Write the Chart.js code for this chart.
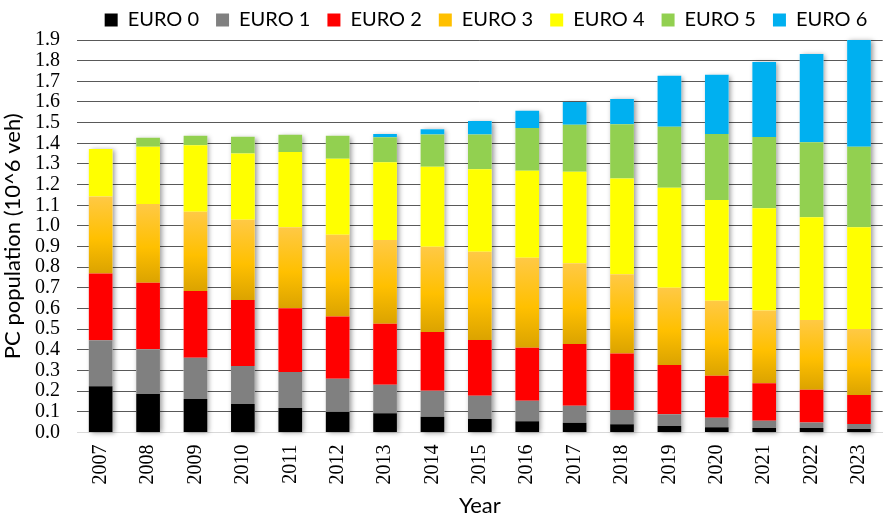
<!DOCTYPE html>
<html>
<head>
<meta charset="utf-8">
<script src="https://cdn.jsdelivr.net/npm/chart.js@4.4.0/dist/chart.umd.min.js"></script>
<style>
  html, body { margin: 0; padding: 0; background: #fff; }
  #wrap { width: 895px; height: 523px; }
</style>
</head>
<body>
<div id="wrap"><canvas id="myChart" width="895" height="523"></canvas></div>
<script>
const years = ['2007','2008','2009','2010','2011','2012','2013','2014','2015','2016','2017','2018','2019','2020','2021','2022','2023'];

// passenger car population per emission class, 10^6 vehicles
const euro0 = [0.224,0.186,0.162,0.138,0.119,0.101,0.093,0.076,0.065,0.054,0.047,0.040,0.031,0.025,0.022,0.022,0.017];
const euro1 = [0.222,0.217,0.200,0.184,0.174,0.159,0.138,0.126,0.113,0.100,0.083,0.069,0.057,0.047,0.035,0.027,0.024];
const euro2 = [0.324,0.322,0.323,0.319,0.308,0.302,0.296,0.284,0.270,0.256,0.298,0.274,0.239,0.203,0.181,0.158,0.141];
const euro3 = [0.373,0.381,0.384,0.389,0.392,0.395,0.405,0.413,0.427,0.436,0.391,0.383,0.374,0.363,0.352,0.338,0.319];
const euro4 = [0.229,0.277,0.321,0.321,0.365,0.368,0.376,0.388,0.399,0.421,0.443,0.464,0.484,0.487,0.495,0.497,0.492];
const euro5 = [0,0.044,0.047,0.081,0.083,0.112,0.121,0.156,0.169,0.207,0.228,0.262,0.295,0.320,0.345,0.363,0.390];
const euro6 = [0,0,0,0,0,0,0.016,0.025,0.065,0.084,0.110,0.122,0.247,0.287,0.363,0.427,0.517];

const yTicks = [0,0.1,0.2,0.3,0.4,0.5,0.6,0.7,0.8,0.9,1.0,1.1,1.2,1.3,1.4,1.5,1.6,1.7,1.8,1.9];

// EURO 3 segments get a vertical gradient, built per bar from the y scale
function euro3Fill(c) {
  const chart = c.chart;
  const y = chart.scales.y;
  if (!y || c.dataIndex === undefined) return '#FFC000';
  const i = c.dataIndex;
  const bottom = euro0[i] + euro1[i] + euro2[i];
  const top = bottom + euro3[i];
  const y0 = y.getPixelForValue(top), y1 = y.getPixelForValue(bottom);
  if (!isFinite(y0) || !isFinite(y1) || y0 === y1) return '#FFC000';
  const g = chart.ctx.createLinearGradient(0, y0, 0, y1);
  g.addColorStop(0, '#FFC945');
  g.addColorStop(0.55, '#FFC000');
  g.addColorStop(1, '#DBA300');
  return g;
}

// soft shadow behind each full stack
const stackShadow = {
  id: 'stackShadow',
  beforeDatasetsDraw(chart) {
    const ctx = chart.ctx;
    const metas = chart.getSortedVisibleDatasetMetas();
    ctx.save();
    ctx.shadowColor = 'rgba(0,0,0,0.4)';
    ctx.shadowBlur = 5;
    ctx.shadowOffsetX = 2;
    ctx.shadowOffsetY = 1;
    ctx.fillStyle = '#fff';
    years.forEach((_, j) => {
      let top = Infinity, base = -Infinity, x = 0, w = 0;
      metas.forEach(m => {
        const el = m.data[j];
        if (!el) return;
        const p = el.getProps(['x','y','base','width'], true);
        top = Math.min(top, p.y, p.base);
        base = Math.max(base, p.y, p.base);
        x = p.x; w = p.width;
      });
      if (isFinite(top) && isFinite(base)) ctx.fillRect(x - w / 2, top, w, base - top);
    });
    ctx.restore();
  }
};

// fixed legend height, and centre the legend over the plot area instead of the canvas
const legendBox = {
  id: 'legendBox',
  beforeInit(chart) {
    const fit = chart.legend.fit;
    chart.legend.fit = function () {
      fit.bind(chart.legend)();
      this.height = 47;
    };
  },
  afterLayout(chart) {
    chart.legend.left = chart.chartArea.left;
  }
};

const sans = 'Lato, "Open Sans", sans-serif';
const serif = '"Liberation Serif", "DejaVu Serif", serif';

new Chart(document.getElementById('myChart').getContext('2d'), {
  type: 'bar',
  data: {
    labels: years,
    datasets: [
      { label: 'EURO 0', data: euro0, backgroundColor: '#000000' },
      { label: 'EURO 1', data: euro1, backgroundColor: '#808080' },
      { label: 'EURO 2', data: euro2, backgroundColor: '#FF0000' },
      { label: 'EURO 3', data: euro3, backgroundColor: euro3Fill },
      { label: 'EURO 4', data: euro4, backgroundColor: '#FFFF00' },
      { label: 'EURO 5', data: euro5, backgroundColor: '#92D050' },
      { label: 'EURO 6', data: euro6, backgroundColor: '#00B0F0' }
    ]
  },
  options: {
    responsive: false,
    animation: false,
    layout: { padding: { left: 0, right: 0, top: -7, bottom: 0 } },
    datasets: { bar: { barPercentage: 0.5, categoryPercentage: 1.0, borderWidth: 0 } },
    plugins: {
      tooltip: { enabled: false },
      legend: {
        position: 'top',
        labels: {
          boxWidth: 13,
          boxHeight: 13,
          padding: 17,
          color: '#000',
          font: { family: sans, size: 20 },
          generateLabels(chart) {
            const items = Chart.defaults.plugins.legend.labels.generateLabels(chart);
            items.forEach(it => { if (it.datasetIndex === 3) it.fillStyle = '#FFC000'; it.lineWidth = 0; });
            return items;
          }
        }
      }
    },
    scales: {
      x: {
        stacked: true,
        grid: { display: false, drawTicks: false },
        border: { display: true, color: '#d9d9d9', width: 1 },
        ticks: {
          minRotation: 90, maxRotation: 90, padding: 12, autoSkip: false,
          color: '#000', font: { family: serif, size: 20 }
        },
        title: { display: true, text: 'Year', color: '#000', font: { family: sans, size: 22 }, padding: { top: 0 } },
        afterFit(s) { s.height = 90.5; }
      },
      y: {
        stacked: true,
        min: 0, max: 1.9,
        afterBuildTicks(s) { s.ticks = yTicks.map(v => ({ value: v })); },
        grid: {
          drawTicks: false,
          color: c => c.tick && c.tick.value === 0 ? '#d9d9d9' : '#595959',
          lineWidth: 1
        },
        border: { display: false },
        ticks: {
          padding: 17, color: '#000', autoSkip: false,
          font: { family: serif, size: 20 },
          callback: v => Number(v).toFixed(1)
        },
        title: { display: true, text: 'PC population (10^6 veh)', color: '#000', font: { family: sans, size: 22 }, padding: 0 },
        afterFit(s) { s.width = 77; }
      }
    }
  },
  plugins: [stackShadow, legendBox]
});
</script>
</body>
</html>
